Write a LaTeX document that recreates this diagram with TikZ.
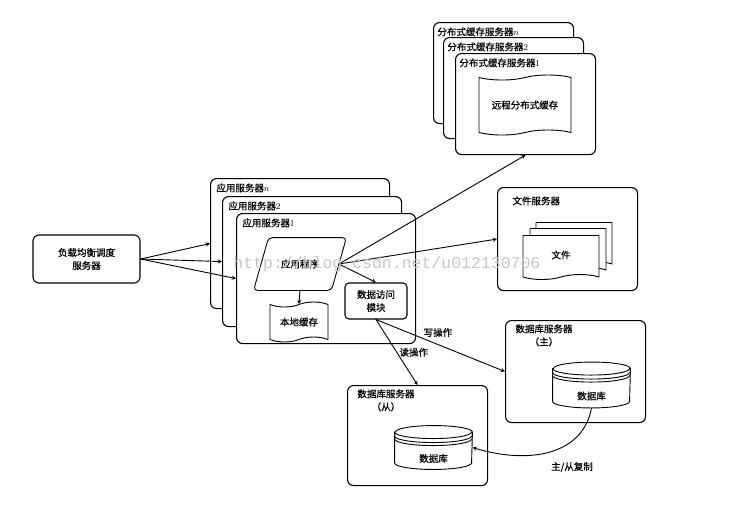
\documentclass[tikz,border=0pt]{standalone}
\usepackage{fontspec}
\newfontfamily\cjk[FakeBold=0.6]{Noto Sans CJK SC}
\setmonofont{Liberation Mono}
\usetikzlibrary{shapes.symbols}
\begin{document}
\begin{tikzpicture}[x=1pt,y=-1pt,font=\cjk\fontsize{9.5}{13}\selectfont,line join=round,line cap=round,>=stealth,line width=0.9pt]
	\tikzset{every node/.style={inner sep=1pt}}
	\tikzset{srv/.style={draw,rounded corners=6pt,fill=white,anchor=north west,line width=1.1pt},
		ttl/.style={anchor=north west,align=center},
		doc/.style={draw,tape,tape bend top=none,minimum width=76pt,minimum height=44pt,fill=white}}
	\useasboundingbox (0,0) rectangle (754,507);
	\node[srv,anchor=center,minimum width=107pt,minimum height=48pt,align=center] (lb) at (86.5,259) {负载均衡调度\\服务器};
	\foreach \n/\x/\y in {n/210/178,2/222/196,1/236/213}{
		\node[srv,minimum width=179pt,minimum height=130pt] (app\n) at (\x,\y) {};
		\node[ttl] (appt\n) at ([xshift=5pt,yshift=-4pt]app\n.north west) {应用服务器$\n$};
	}
	\node[minimum width=77pt,minimum height=52pt,inner sep=0pt] (prog) at (300,264) {};
	\draw[rounded corners=4pt,fill=white] ([xshift=-7.5pt]prog.south west) -- ([xshift=7.5pt]prog.north west) -- ([xshift=7.5pt]prog.north east) -- ([xshift=-7.5pt]prog.south east) -- cycle;
	\node (progt) at (prog.center) {应用程序};
	\node[draw,tape,minimum width=58pt,minimum height=40pt,fill=white] (local) at (299,322) {本地缓存};
	\node[srv,anchor=center,rounded corners=4pt,minimum width=62pt,minimum height=36pt,align=center] (dao) at (376,301) {数据访问\\模块};
	\foreach \n/\x/\y in {n/433/22,2/443/37,1/455/53}{
		\node[srv,minimum width=140pt,minimum height=101pt] (cache\n) at (\x,\y) {};
		\node[ttl] (cachet\n) at ([xshift=3pt,yshift=-4pt]cache\n.north west) {分布式缓存服务器$\n$};
	}
	\node[draw,tape,minimum width=92pt,minimum height=60pt,fill=white] (remote) at (525,105) {远程分布式缓存};
	\node[srv,minimum width=140pt,minimum height=103pt] (file) at (497,187) {};
	\node[ttl] (filet) at ([xshift=14pt,yshift=-8pt]file.north west) {文件服务器};
	\foreach \i/\d in {3/13,2/7}
		\node[doc] (doc\i) at (561+\d,255-\d) {};
	\node[doc] (doc1) at (561,255) {文件};
	\node[srv,minimum width=140pt,minimum height=102pt] (master) at (505,320) {};
	\node[ttl] (mastert) at ([xshift=9pt,yshift=-3pt]master.north west) {数据库服务器\\（主）};
	\node[srv,minimum width=140pt,minimum height=100pt] (slave) at (347,385) {};
	\node[ttl] (slavet) at ([xshift=9pt,yshift=-3pt]slave.north west) {数据库服务器\\（从）};
	\node[minimum width=77pt,minimum height=45pt,inner sep=0pt] (dbm) at (591.5,385) {};
	\node[minimum width=77pt,minimum height=43pt,inner sep=0pt] (dbs) at (433.5,447.5) {};
	\foreach \c in {dbm,dbs}{
		\draw[fill=white] ([yshift=-6.5pt]\c.north west) -- ([yshift=6.5pt]\c.south west) arc[start angle=180,end angle=0,x radius=38.5,y radius=6.5] -- ([yshift=-6.5pt]\c.north east) arc[start angle=0,end angle=-180,x radius=38.5,y radius=6.5] -- cycle;
		\foreach \s in {0,4,7}
			\draw ([yshift=-6.5pt-\s*1pt]\c.north west) arc[start angle=180,end angle=0,x radius=38.5,y radius=6.5];
		\node (\c t) at ([yshift=-11pt]\c.center) {数据库};
	}
	\foreach \t in {appn,app2,app1}
		\draw[->] (lb.east) -- (\t.west);
	\draw[->] (prog.south) -- (local.north);
	\draw[->] (prog.east) -- (dao.north);
	\draw[->] (prog.east) -- (cache1.south);
	\draw[->] (prog.east) -- (file.west);
	\draw[->] (dao.south) -- (master.west) node[pos=0.48,yshift=12pt] (wr) {写操作};
	\draw[->] (dao.south) -- (slave.north) node[pos=0.5,xshift=17pt] (rd) {读操作};
	\draw[->] (dbm.south) .. controls +(-8,45) and +(60,18) .. (dbs.east);
	\node (repl) at (572,467) {主/从复制};
	\node[text=black!22,font=\ttfamily\fontsize{16.5}{16.5}\selectfont,anchor=base west,inner sep=0pt] (wm) at (233,268) {http://blog.csdn.net/u012130706};
\end{tikzpicture}
\end{document}
